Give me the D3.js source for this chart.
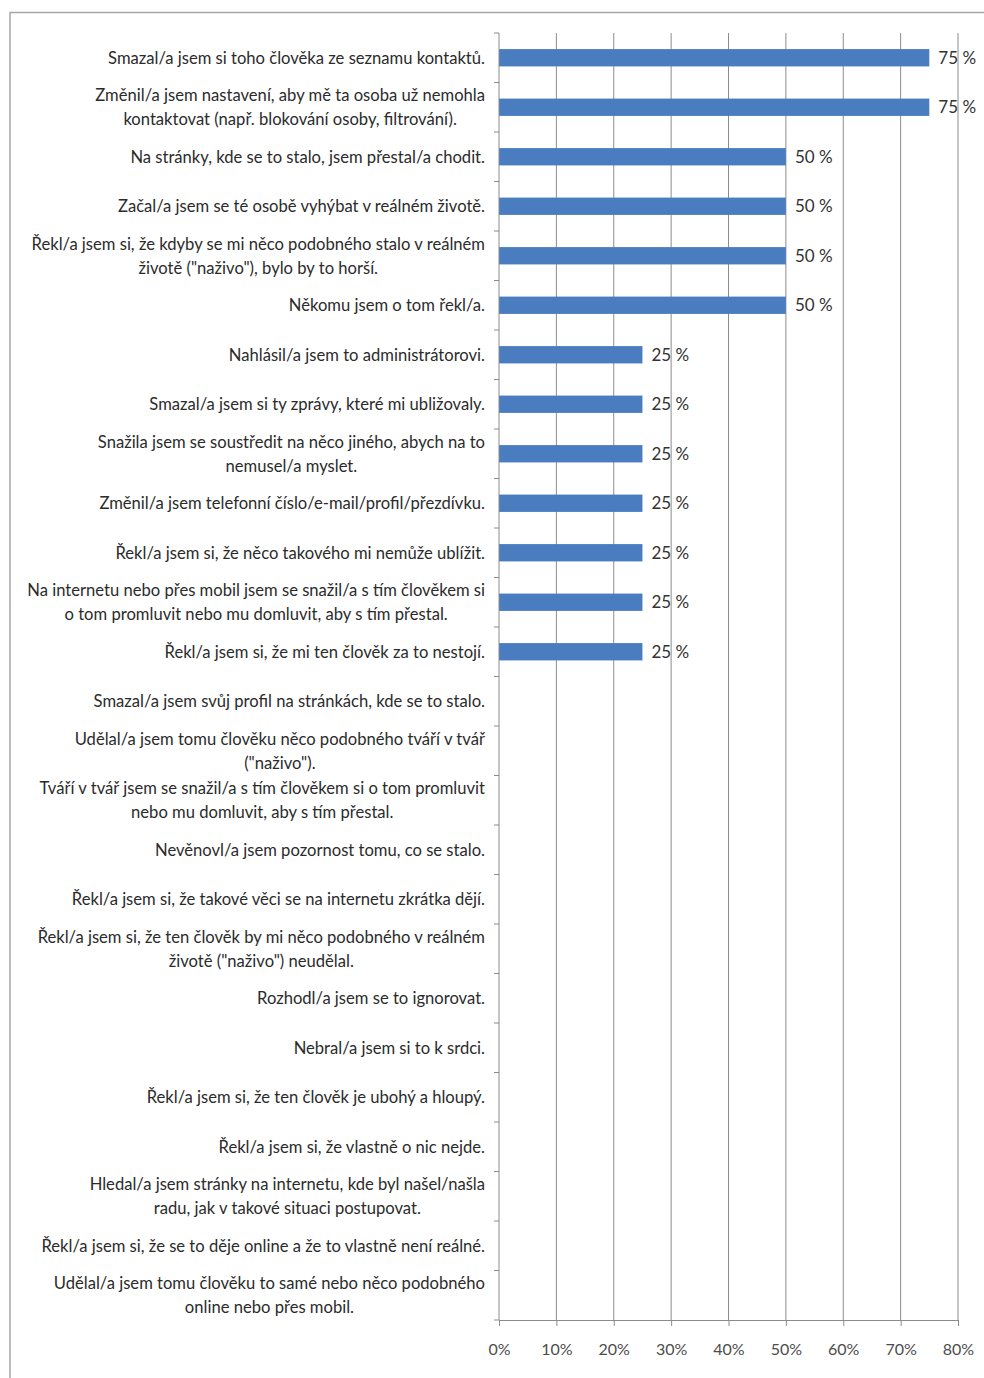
<!DOCTYPE html>
<html>
<head>
<meta charset="utf-8">
<script src="https://cdn.jsdelivr.net/npm/d3@7"></script>
<style>
  html, body { margin: 0; padding: 0; background: #fff; }
  svg { display: block; }
  text { font-family: Lato, "Open Sans", sans-serif; }
</style>
</head>
<body>
<script>
// Reakce na nepříjemnou zkušenost online (podíl respondentů)
const categories = [
  "Smazal/a jsem si toho člověka ze seznamu kontaktů.",
  "Změnil/a jsem nastavení, aby mě ta osoba už nemohla\nkontaktovat (např. blokování osoby, filtrování).",
  "Na stránky, kde se to stalo, jsem přestal/a chodit.",
  "Začal/a jsem se té osobě vyhýbat v reálném životě.",
  "Řekl/a jsem si, že kdyby se mi něco podobného stalo v reálném\nživotě (\"naživo\"), bylo by to horší.",
  "Někomu jsem o tom řekl/a.",
  "Nahlásil/a jsem to administrátorovi.",
  "Smazal/a jsem si ty zprávy, které mi ubližovaly.",
  "Snažila jsem se soustředit na něco jiného, abych na to\nnemusel/a myslet.",
  "Změnil/a jsem telefonní číslo/e-mail/profil/přezdívku.",
  "Řekl/a jsem si, že něco takového mi nemůže ublížit.",
  "Na internetu nebo přes mobil jsem se snažil/a s tím člověkem si\no tom promluvit nebo mu domluvit, aby s tím přestal.",
  "Řekl/a jsem si, že mi ten člověk za to nestojí.",
  "Smazal/a jsem svůj profil na stránkách, kde se to stalo.",
  "Udělal/a jsem tomu člověku něco podobného tváří v tvář\n(\"naživo\").",
  "Tváří v tvář jsem se snažil/a s tím člověkem si o tom promluvit\nnebo mu domluvit, aby s tím přestal.",
  "Nevěnovl/a jsem pozornost tomu, co se stalo.",
  "Řekl/a jsem si, že takové věci se na internetu zkrátka dějí.",
  "Řekl/a jsem si, že ten člověk by mi něco podobného v reálném\nživotě (\"naživo\") neudělal.",
  "Rozhodl/a jsem se to ignorovat.",
  "Nebral/a jsem si to k srdci.",
  "Řekl/a jsem si, že ten člověk je ubohý a hloupý.",
  "Řekl/a jsem si, že vlastně o nic nejde.",
  "Hledal/a jsem stránky na internetu, kde byl našel/našla\nradu, jak v takové situaci postupovat.",
  "Řekl/a jsem si, že se to děje online a že to vlastně není reálné.",
  "Udělal/a jsem tomu člověku to samé nebo něco podobného\nonline nebo přes mobil."
];

// Podíl odpovědí v procentech
const values = [75, 75, 50, 50, 50, 50, 25, 25, 25, 25, 25, 25, 25,
                0, 0, 0, 0, 0, 0, 0, 0, 0, 0, 0, 0, 0];

// Popisky osy x
const xTicks = [0, 10, 20, 30, 40, 50, 60, 70, 80];

const W = 984, H = 1378;
const plot = { left: 499, right: 958, top: 33, bottom: 1320 };

const svg = d3.select("body").append("svg")
  .attr("width", W).attr("height", H);

// outer chart frame
svg.append("rect")
  .attr("x", 10).attr("y", 12.5)
  .attr("width", 1000).attr("height", 1400)
  .attr("fill", "#fff")
  .attr("stroke", "#a6a6a6").attr("stroke-width", 1.5);

const x = d3.scaleLinear().domain([0, 80]).range([plot.left, plot.right]);
const y = d3.scaleBand().domain(categories)
  .range([plot.top, plot.bottom])
  .paddingInner(0.65).paddingOuter(0.325);

const gridColor = "#8c8c8c";

// vertical gridlines
svg.append("g").selectAll("line")
  .data(xTicks.slice(1))
  .join("line")
  .attr("x1", d => x(d)).attr("x2", d => x(d))
  .attr("y1", plot.top).attr("y2", plot.bottom)
  .attr("stroke", gridColor).attr("stroke-width", 1);

// bars
svg.append("g").selectAll("rect")
  .data(categories.map((c, i) => ({ c, v: values[i] })))
  .join("rect")
  .attr("x", x(0))
  .attr("y", d => y(d.c))
  .attr("width", d => x(d.v) - x(0))
  .attr("height", y.bandwidth())
  .attr("fill", "#4a7dc0");

// value labels
svg.append("g").selectAll("text")
  .data(categories.map((c, i) => ({ c, v: values[i] })).filter(d => d.v > 0))
  .join("text")
  .attr("x", d => x(d.v) + 9)
  .attr("y", d => y(d.c) + y.bandwidth() / 2)
  .attr("dy", "0.36em")
  .attr("font-size", 17)
  .attr("fill", "#333")
  .text(d => d.v + " %");

// x axis
const xAxis = svg.append("g")
  .attr("transform", `translate(0,${plot.bottom})`)
  .call(d3.axisBottom(x).tickValues(xTicks)
    .tickFormat(d => d + "%").tickSizeInner(6).tickSizeOuter(0).tickPadding(18));
xAxis.select(".domain").attr("stroke", gridColor);
xAxis.selectAll(".tick line").attr("stroke", gridColor);
xAxis.selectAll(".tick text")
  .attr("font-size", 16).attr("fill", "#4d4d4d")
  .style("font-family", "Lato, sans-serif");

// y axis line with boundary ticks
const yAxis = svg.append("g").attr("transform", `translate(${plot.left},0)`);
yAxis.append("line")
  .attr("y1", plot.top).attr("y2", plot.bottom)
  .attr("stroke", gridColor);
const bounds = categories.map(c => y(c) + y.bandwidth() / 2 - y.step() / 2)
  .concat([y(categories[categories.length - 1]) + y.bandwidth() / 2 + y.step() / 2]);
yAxis.selectAll("line.tk")
  .data(bounds)
  .join("line").attr("class", "tk")
  .attr("x1", -5).attr("x2", 0)
  .attr("y1", d => d).attr("y2", d => d)
  .attr("stroke", gridColor);

// category labels: block right-aligned, lines centred within block
const labelRight = 485;
const lineH = 24;
const lg = svg.append("g");
categories.forEach(c => {
  const lines = c.split("\n");
  const cy = y(c) + y.bandwidth() / 2;
  const g = lg.append("g");
  const texts = lines.map((ln, i) => g.append("text")
    .attr("y", cy + (i - (lines.length - 1) / 2) * lineH)
    .attr("dy", "0.36em")
    .attr("font-size", 16.6)
    .attr("fill", "#2b2b2b")
    .attr("text-anchor", "middle")
    .text(ln));
  const widths = texts.map(t => t.node().getComputedTextLength());
  const maxW = d3.max(widths);
  texts.forEach(t => t.attr("x", labelRight - maxW / 2));
});
</script>
</body>
</html>
